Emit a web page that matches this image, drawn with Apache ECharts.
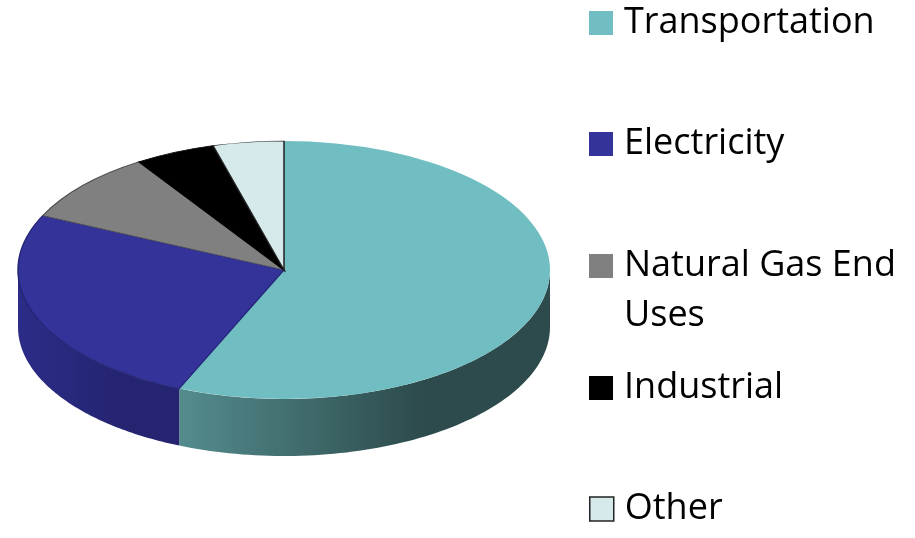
<!DOCTYPE html>
<html>
<head>
<meta charset="utf-8">
<script src="https://cdn.jsdelivr.net/npm/echarts@6/dist/echarts.min.js"></script>
<style>
  html, body { margin: 0; padding: 0; background: #fff; }
  #main { width: 915px; height: 538px; }
</style>
</head>
<body>
<div id="main"></div>
<script>
// data (share of total, %)
const categories = ['Transportation', 'Electricity', 'Natural Gas End Uses', 'Industrial', 'Other'];
const values = [56.5, 25.5, 8.9, 4.9, 4.3];
const topColors = ['#70bdc2', '#333399', '#808080', '#000000', '#d6eaec'];
const edgeColors = [null, '#222277', '#4a4a4a', '#000000', '#222222'];
const sideColors = [['#548c8e', '#2d4b4c'], ['#2c2c88', '#242470'], ['#555', '#444'], ['#000', '#000'], ['#9fb3b5', '#8a9c9e']];
const legendCenters = [23, 144, 266, 388, 509];

// pie geometry (ellipse top + depth)
const pie = { cx: 284, cy: 270, rx: 266, ry: 129, depth: 57 };

const total = values.reduce((a, b) => a + b, 0);
const cum = [0];
values.forEach((v, i) => cum.push(cum[i] + v));

function pt(t, dy) {
  return [pie.cx + pie.rx * Math.sin(t), pie.cy - pie.ry * Math.cos(t) + (dy || 0)];
}

function makeRender(idx) {
  return function (params, api) {
    const t1 = cum[idx] / total * Math.PI * 2;
    const t2 = cum[idx + 1] / total * Math.PI * 2;
    const children = [];
    // front wall: only the part facing the viewer (lower half)
    const a = Math.max(t1, Math.PI / 2), b = Math.min(t2, Math.PI * 1.5);
    if (b > a) {
      const top = [], bottom = [];
      const n = 80;
      for (let k = 0; k <= n; k++) {
        const t = a + (b - a) * k / n;
        top.push(pt(t, 0));
        bottom.push(pt(t, pie.depth));
      }
      children.push({
        type: 'polygon',
        shape: { points: top.concat(bottom.reverse()) },
        style: {
          fill: {
            type: 'linear', x: 0, y: 0, x2: 1, y2: 0,
            colorStops: [{ offset: 0, color: sideColors[idx][0] }, { offset: 0.65, color: sideColors[idx][1] }, { offset: 1, color: sideColors[idx][1] }]
          }
        }
      });
    }
    // top face: circular sector squashed into an ellipse
    children.push({
      type: 'sector',
      shape: {
        cx: pie.cx, cy: pie.cy, r: pie.rx, r0: 0,
        startAngle: -Math.PI / 2 + t1, endAngle: -Math.PI / 2 + t2, clockwise: true
      },
      originX: pie.cx, originY: pie.cy,
      scaleY: pie.ry / pie.rx,
      style: {
        fill: topColors[idx],
        stroke: edgeColors[idx] || 'none',
        lineWidth: edgeColors[idx] ? 1.5 : 0
      }
    });
    return { type: 'group', children: children };
  };
}

const series = categories.map((name, i) => ({
  name: name,
  type: 'custom',
  coordinateSystem: 'none',
  data: [values[i]],
  itemStyle: { color: topColors[i] },
  renderItem: makeRender(i),
  silent: true,
  animation: false
}));

const fontFamily = '"Open Sans", "Noto Sans", sans-serif';
const legend = categories.map((name, i) => {
  const multi = i === 2;
  const lh = multi ? 50 : 46;
  return {
    data: [name],
    left: 589,
    top: multi ? legendCenters[i] - 75 : legendCenters[i] - lh / 2,
    padding: 0,
    icon: 'rect',
    itemWidth: 24,
    itemHeight: 24,
    selectedMode: false,
    itemStyle: i === 4 ? { borderColor: '#222', borderWidth: 1.5 } : { borderWidth: 0 },
    // blank first line keeps the icon level with "Natural Gas End"
    formatter: multi ? ' \nNatural Gas End\nUses' : '{name}',
    textStyle: {
      fontFamily: fontFamily,
      fontSize: 36,
      lineHeight: lh,
      color: '#000',
      padding: [0, 0, 0, 6]
    }
  };
});

const chart = echarts.init(document.getElementById('main'));
chart.setOption({
  backgroundColor: '#fff',
  animation: false,
  legend: legend,
  series: series
});
</script>
</body>
</html>
